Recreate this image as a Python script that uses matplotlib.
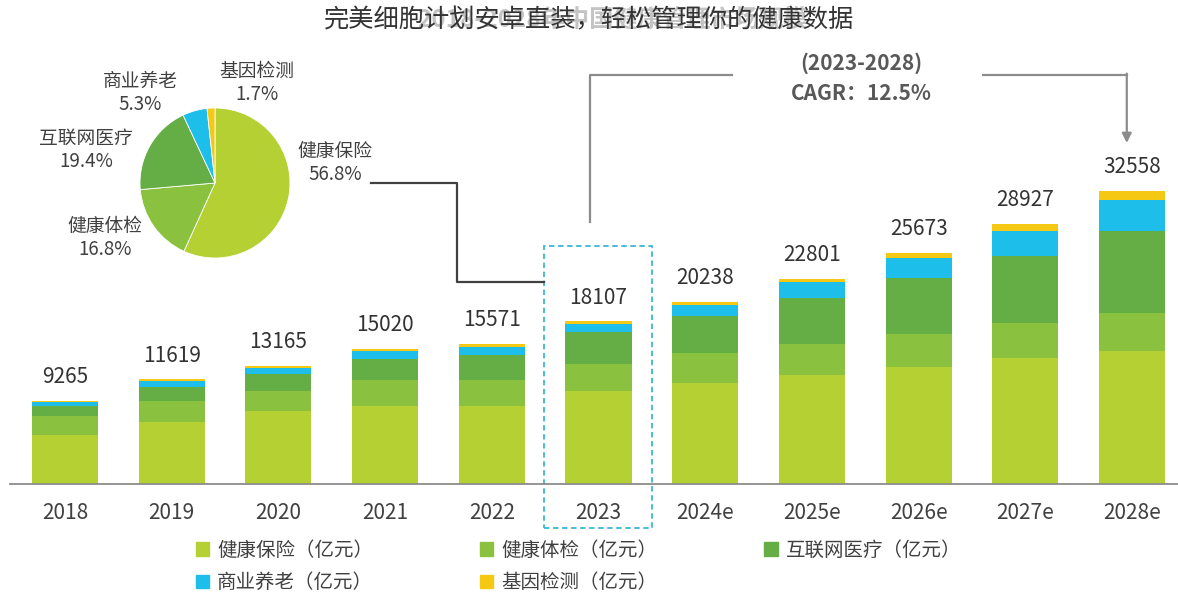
import numpy as np
import matplotlib
matplotlib.use('Agg')
import matplotlib.pyplot as plt
from matplotlib.patches import Rectangle, Patch

plt.rcParams['font.family'] = ['Noto Sans CJK SC', 'DejaVu Sans']

years = ['2018', '2019', '2020', '2021', '2022', '2023',
         '2024e', '2025e', '2026e', '2027e', '2028e']
totals = [9265, 11619, 13165, 15020, 15571, 18107,
          20238, 22801, 25673, 28927, 32558]

# segment values (亿元)
insurance = [5420, 6900, 8100, 8700, 8630, 10285, 11180, 12110, 12950, 13950, 14780]
checkup   = [2150, 2300, 2200, 2890, 2960, 3042, 3330, 3400, 3710, 3890, 4220]
internet  = [1130, 1550, 1900, 2300, 2740, 3513, 4190, 5150, 6180, 7520, 9140]
pension   = [450, 650, 700, 890, 890, 960, 1190, 1730, 2270, 2780, 3440]
gene      = [115, 219, 265, 240, 351, 307, 348, 411, 563, 787, 978]

names = ['健康保险', '健康体检', '互联网医疗', '商业养老', '基因检测']
colors = ['#b4d032', '#8ac240', '#65ad45', '#1ebeea', '#f5c814']

# 2023 shares for the pie
pie_share = [56.8, 16.8, 19.4, 5.3, 1.7]

fig = plt.figure(figsize=(11.78, 6.05), dpi=100)

# ---- stacked bars
ax = fig.add_axes([10/1178, 0.2, 1168/1178, 444/605])
x = np.arange(len(years))
series = [insurance, checkup, internet, pension, gene]
bottom = np.zeros(len(years))
conts = []
for vals, c, n in zip(series, colors, names):
    b = ax.bar(x, vals, width=0.62, bottom=bottom, color=c, label=n + '（亿元）')
    conts.append(b)
    bottom += np.array(vals)
ax.bar_label(conts[-1], labels=[str(t) for t in totals], padding=9,
             fontsize=15, color='#333333')

ax.set_xlim(-0.515, 10.43)
ax.set_ylim(0, 49330)
ax.set_xticks(x)
ax.set_xticklabels(years, fontsize=15, color='#404040')
ax.tick_params(axis='x', length=0, pad=13)
ax.set_yticks([])
for s in ['top', 'left', 'right']:
    ax.spines[s].set_visible(False)
ax.spines['bottom'].set_color('#8c8c8c')
ax.spines['bottom'].set_linewidth(1.3)

# dashed highlight box round 2023
ax.add_patch(Rectangle((4.49, -4890), 1.01, 31330, fill=False, ls=(0, (3, 2)),
                       ec='#3ab6d4', lw=1.3, clip_on=False))

# connector from pie label to the 2023 box
ax.plot([2.87, 3.67, 3.67, 4.49], [33440, 33440, 22440, 22440],
        color='#404040', lw=1.6, clip_on=False)

# CAGR bracket
ax.plot([4.92, 4.92, 6.25], [29110, 45440, 45440], color='#8c8c8c', lw=1.6)
ax.annotate('', xy=(9.95, 37890), xytext=(9.95, 45600),
            arrowprops=dict(arrowstyle='-|>', color='#8c8c8c', lw=1.6,
                            mutation_scale=14, shrinkA=0, shrinkB=0))
ax.plot([8.6, 9.95], [45440, 45440], color='#8c8c8c', lw=1.6)
ax.text(7.46, 46770, '(2023-2028)', ha='center', va='center', fontsize=15,
        fontweight='bold', color='#595959')
ax.text(7.46, 43440, 'CAGR：12.5%', ha='center', va='center', fontsize=15,
        fontweight='bold', color='#595959')

# ---- pie (2023 structure)
pa = fig.add_axes([140/1178, (605-183-75)/605, 150/1178, 150/605])
pa.pie(pie_share, colors=colors, startangle=90, counterclock=False,
       wedgeprops=dict(edgecolor='white', linewidth=0.6))
pa.set_xlim(-1, 1)
pa.set_ylim(-1, 1)
pa.set_aspect('equal')
label_pos = [(1.6, 0.27), (-1.47, -0.73), (-1.72, 0.44), (-1.0, 1.2), (0.56, 1.33)]
for n, p, (lx, ly) in zip(names, pie_share, label_pos):
    pa.text(lx, ly, f'{n}\n{p}%', ha='center', va='center', fontsize=13.5,
            color='#404040', linespacing=1.15, clip_on=False)

# ---- titles
fig.text(0.52, 0.966, '2018-2028年中国健康管理市场规模', ha='center', va='center',
         fontsize=17.5, fontweight='bold', color='#c4c4c4')
fig.text(0.5, 0.966, '完美细胞计划安卓直装，轻松管理你的健康数据', ha='center', va='center',
         fontsize=18.2, fontweight='light', color='#333333')

# ---- legend, filled row by row
h = [Patch(color=c) for c in colors]
labs = [n + '（亿元）' for n in names]
order = [0, 3, 1, 4, 2]
fig.legend([h[i] for i in order], [labs[i] for i in order], ncol=3,
           loc='upper left', bbox_to_anchor=(178/1178, 1 - 522/605),
           frameon=False, fontsize=14, handlelength=0.7, handleheight=0.7,
           handletextpad=0.4, columnspacing=5.5, labelspacing=0.6,
           labelcolor='#404040')

fig.savefig('out.png', dpi=100)
